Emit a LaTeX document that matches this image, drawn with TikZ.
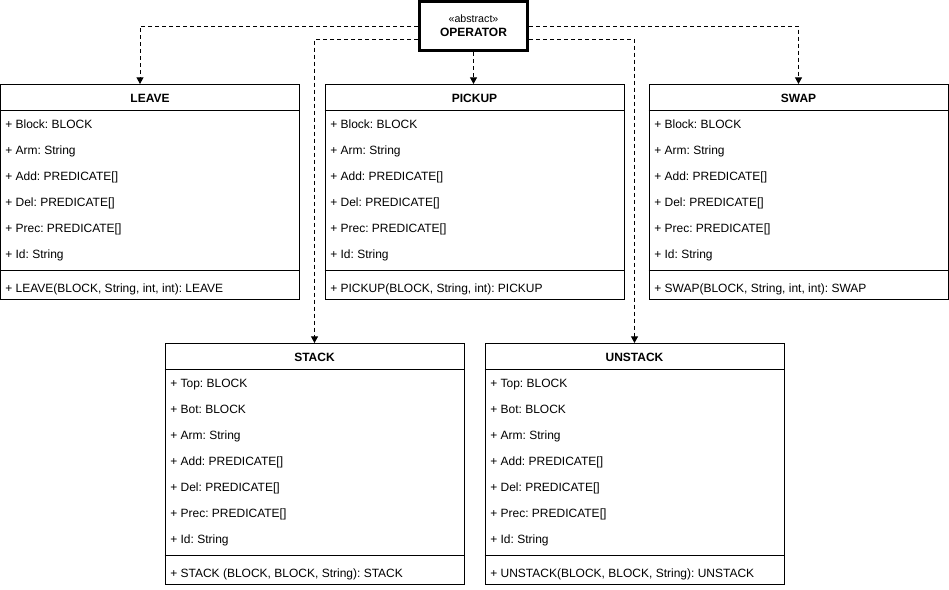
\documentclass[tikz,border=0pt]{standalone}
\usepackage{fontspec}
\setmainfont{Liberation Sans}
\frenchspacing
\usetikzlibrary{arrows.meta}

\tikzset{
  classbox/.style={rectangle, draw, line width=0.75pt, minimum width=224.25pt, inner sep=0pt},
  abstractbox/.style={rectangle, draw, line width=2.25pt, minimum width=81pt, minimum height=36.75pt, align=center, font=\fontsize{9}{10.5}\selectfont},
  classname/.style={font=\fontsize{9}{11}\selectfont\bfseries, inner sep=0pt, text height=6.5pt, text depth=0pt},
  member/.style={anchor=west, font=\fontsize{9}{11}\selectfont, inner sep=0pt, text height=6.5pt, text depth=0pt},
  inherit/.style={draw, line width=0.75pt, dash pattern=on 3pt off 2.25pt, -{Triangle[length=5pt,width=5.25pt]}}
}

\begin{document}
\begin{tikzpicture}[x=0.75pt, y=-0.75pt]
      \useasboundingbox (0,0) rectangle (949,589);

      \node at (473.5,26) [abstractbox] (operator) {{\fontsize{8}{10}\selectfont «abstract»}\\\textbf{OPERATOR}};

      % first row
      \node at (150,192)   [classbox, minimum height=161.25pt] (leave)  {};
      \node at (474.5,192) [classbox, minimum height=161.25pt] (pickup) {};
      \node at (798.5,192) [classbox, minimum height=161.25pt] (swap)   {};

      \node at (150,98.5)   [classname] (leavename)  {LEAVE};
      \node at (474.5,98.5) [classname] (pickupname) {PICKUP};
      \node at (798.5,98.5) [classname] (swapname)   {SWAP};
      \draw (leave.west |- 0,110.5)  -- (leave.east |- 0,110.5);
      \draw (pickup.west |- 0,110.5) -- (pickup.east |- 0,110.5);
      \draw (swap.west |- 0,110.5)   -- (swap.east |- 0,110.5);
      \draw (leave.west |- 0,270.5)  -- (leave.east |- 0,270.5);
      \draw (pickup.west |- 0,270.5) -- (pickup.east |- 0,270.5);
      \draw (swap.west |- 0,270.5)   -- (swap.east |- 0,270.5);

      \node at (5,124) [member] (leave1) {+ Block: BLOCK};
      \node at (5,150) [member] (leave2) {+ Arm: String};
      \node at (5,176) [member] (leave3) {+ Add: PREDICATE[]};
      \node at (5,202) [member] (leave4) {+ Del: PREDICATE[]};
      \node at (5,228) [member] (leave5) {+ Prec: PREDICATE[]};
      \node at (5,254) [member] (leave6) {+ Id: String};
      \node at (5,288) [member] (leavem) {+ LEAVE(BLOCK, String, int, int): LEAVE};

      \node at (330,124) [member] (pickup1) {+ Block: BLOCK};
      \node at (330,150) [member] (pickup2) {+ Arm: String};
      \node at (330,176) [member] (pickup3) {+ Add: PREDICATE[]};
      \node at (330,202) [member] (pickup4) {+ Del: PREDICATE[]};
      \node at (330,228) [member] (pickup5) {+ Prec: PREDICATE[]};
      \node at (330,254) [member] (pickup6) {+ Id: String};
      \node at (330,288) [member] (pickupm) {+ PICKUP(BLOCK, String, int): PICKUP};

      \node at (654,124) [member] (swap1) {+ Block: BLOCK};
      \node at (654,150) [member] (swap2) {+ Arm: String};
      \node at (654,176) [member] (swap3) {+ Add: PREDICATE[]};
      \node at (654,202) [member] (swap4) {+ Del: PREDICATE[]};
      \node at (654,228) [member] (swap5) {+ Prec: PREDICATE[]};
      \node at (654,254) [member] (swap6) {+ Id: String};
      \node at (654,288) [member] (swapm) {+ SWAP(BLOCK, String, int, int): SWAP};

      % second row
      \node at (314.5,464) [classbox, minimum height=180.75pt] (stack)   {};
      \node at (634.5,464) [classbox, minimum height=180.75pt] (unstack) {};

      \node at (314.5,357) [classname] (stackname)   {STACK};
      \node at (634.5,357) [classname] (unstackname) {UNSTACK};
      \draw (stack.west |- 0,369.5)   -- (stack.east |- 0,369.5);
      \draw (unstack.west |- 0,369.5) -- (unstack.east |- 0,369.5);
      \draw (stack.west |- 0,555.5)   -- (stack.east |- 0,555.5);
      \draw (unstack.west |- 0,555.5) -- (unstack.east |- 0,555.5);

      \node at (170,383) [member] (stack1) {+ Top: BLOCK};
      \node at (170,409) [member] (stack2) {+ Bot: BLOCK};
      \node at (170,435) [member] (stack3) {+ Arm: String};
      \node at (170,461) [member] (stack4) {+ Add: PREDICATE[]};
      \node at (170,487) [member] (stack5) {+ Del: PREDICATE[]};
      \node at (170,513) [member] (stack6) {+ Prec: PREDICATE[]};
      \node at (170,539) [member] (stack7) {+ Id: String};
      \node at (170,573) [member] (stackm) {+ STACK (BLOCK, BLOCK, String): STACK};

      \node at (490,383) [member] (unstack1) {+ Top: BLOCK};
      \node at (490,409) [member] (unstack2) {+ Bot: BLOCK};
      \node at (490,435) [member] (unstack3) {+ Arm: String};
      \node at (490,461) [member] (unstack4) {+ Add: PREDICATE[]};
      \node at (490,487) [member] (unstack5) {+ Del: PREDICATE[]};
      \node at (490,513) [member] (unstack6) {+ Prec: PREDICATE[]};
      \node at (490,539) [member] (unstack7) {+ Id: String};
      \node at (490,573) [member] (unstackm) {+ UNSTACK(BLOCK, BLOCK, String): UNSTACK};

      % inheritance
      \draw[inherit] (operator.west) -| ([xshift=-7.5pt]leave.north);
      \draw[inherit] ([yshift=-9.75pt]operator.west) -| (stack.north);
      \draw[inherit] (operator.south) -- (operator.south |- pickup.north);
      \draw[inherit] ([yshift=-9.75pt]operator.east) -| (unstack.north);
      \draw[inherit] (operator.east) -| (swap.north);
    \end{tikzpicture}
\end{document}
